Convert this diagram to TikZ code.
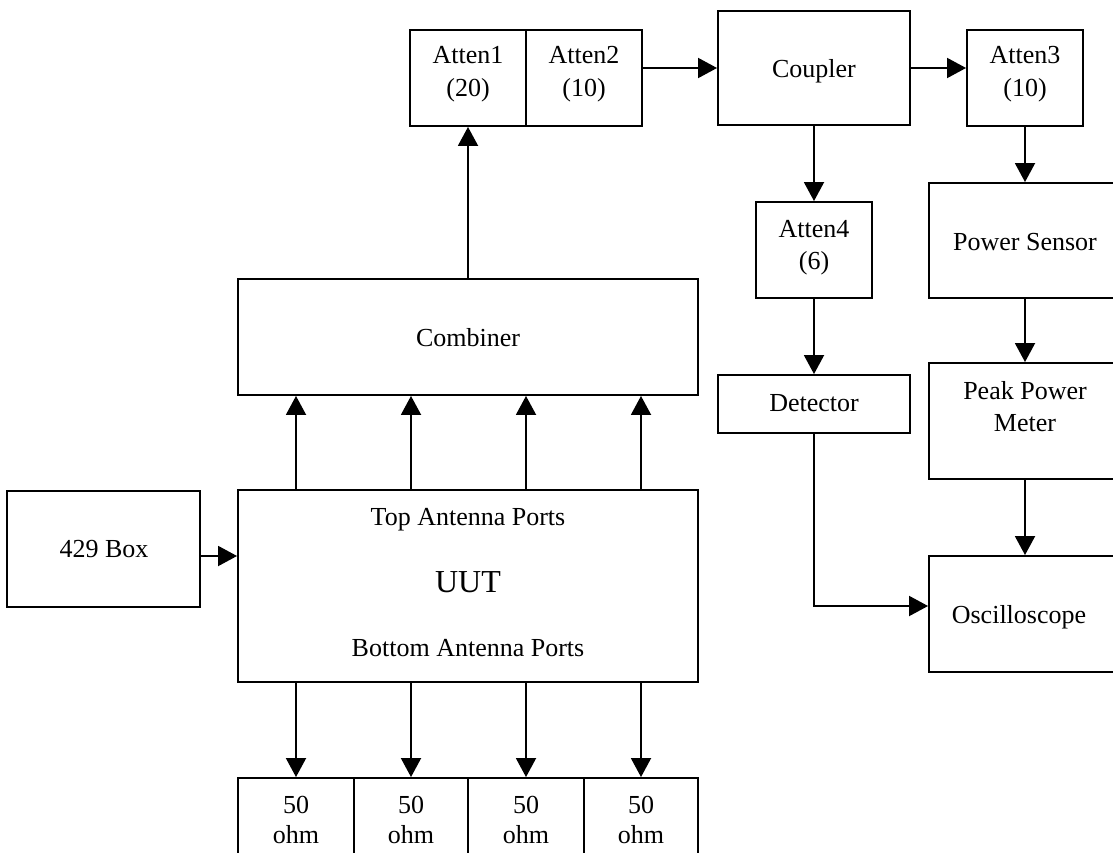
\documentclass[tikz,border=0pt]{standalone}
\usepackage{fontspec}
\setmainfont{Liberation Serif}
\usetikzlibrary{arrows.meta,fit}
\begin{document}
\begin{tikzpicture}[x=1pt,y=-1pt,
  box/.style={draw, line width=1.9pt, inner sep=0pt, rectangle},
  txt/.style={anchor=base, inner sep=0pt, font=\fontsize{26pt}{30pt}\selectfont},
  big/.style={anchor=base, inner sep=0pt, font=\fontsize{32pt}{36pt}\selectfont},
  arr/.style={line width=1.9pt, -{Triangle[length=19pt,width=20pt]}}]
\useasboundingbox (0,0) rectangle (1113,853);
\clip (0,0) rectangle (1113,853);
% boxes
\node[box, fit={(410,30) (526,126)}] (atten1) {};
\node[box, fit={(526,30) (642,126)}] (atten2) {};
\node[box, fit={(718,11) (910,125)}] (coupler) {};
\node[box, fit={(967,30) (1083,126)}] (atten3) {};
\node[box, fit={(756,202) (872,298)}] (atten4) {};
\node[box, fit={(929,183) (1121,298)}] (psensor) {};
\node[box, fit={(718,375) (910,433)}] (detector) {};
\node[box, fit={(929,363) (1121,479)}] (ppm) {};
\node[box, fit={(929,556) (1121,672)}] (scope) {};
\node[box, fit={(238,279) (698,395)}] (combiner) {};
\node[box, fit={(238,490) (698,682)}] (uut) {};
\node[box, fit={(7,491) (200,607)}] (box429) {};
\node[box, fit={(238,778) (354,874)}] (ohm1) {};
\node[box, fit={(354,778) (468,874)}] (ohm2) {};
\node[box, fit={(468,778) (584,874)}] (ohm3) {};
\node[box, fit={(584,778) (698,874)}] (ohm4) {};
% texts
\node[txt] (t-a1a) at (468,64) {Atten1};
\node[txt] (t-a1b) at (468,97) {(20)};
\node[txt] (t-a2a) at (584,64) {Atten2};
\node[txt] (t-a2b) at (584,97) {(10)};
\node[txt] (t-cp) at (814,78) {Coupler};
\node[txt] (t-a3a) at (1025,64) {Atten3};
\node[txt] (t-a3b) at (1025,97) {(10)};
\node[txt] (t-a4a) at (814,237) {Atten4};
\node[txt] (t-a4b) at (814,269) {(6)};
\node[txt] (t-ps) at (1025,250) {Power Sensor};
\node[txt] (t-det) at (814,411) {Detector};
\node[txt] (t-ppa) at (1025,399) {Peak Power};
\node[txt] (t-ppb) at (1025,431) {Meter};
\node[txt] (t-sc) at (1019,623) {Oscilloscope};
\node[txt] (t-comb) at (468,346) {Combiner};
\node[txt] (t-top) at (468,525) {Top Antenna Ports};
\node[big] (t-uut) at (468,592) {UUT};
\node[txt] (t-bot) at (468,656) {Bottom Antenna Ports};
\node[txt] (t-429) at (104,557) {429 Box};
\foreach \i/\x in {1/296,2/411,3/526,4/641}{
  \node[txt] (t-o\i a) at (\x,813) {50};
  \node[txt] (t-o\i b) at (\x,843) {ohm};
}
% connectors
\draw[arr] (combiner.north) -- (atten1.south);
\coordinate (c2) at (atten2.east |- coupler.west);
\draw[arr] (c2) -- (coupler.west);
\draw[arr] (coupler.east) -- (coupler.east -| atten3.west);
\draw[arr] (coupler.south) -- (atten4.north);
\draw[arr] (atten3.south) -- (atten3.south |- psensor.north);
\draw[arr] (atten4.south) -- (detector.north);
\draw[arr] (psensor.south) -- (ppm.north);
\draw[arr] (ppm.south) -- (scope.north);
\coordinate (sin) at ([yshift=8pt]scope.west);
\draw[arr] (detector.south) |- (sin);
\coordinate (uin) at ([yshift=-7pt]box429.east);
\draw[arr] (uin) -- (uin -| uut.west);
\foreach \i in {1,2,3,4}{
  \draw[arr] (ohm\i.north |- uut.north) -- (ohm\i.north |- combiner.south);
  \draw[arr] (ohm\i.north |- uut.south) -- (ohm\i.north);
}
\end{tikzpicture}
\end{document}
